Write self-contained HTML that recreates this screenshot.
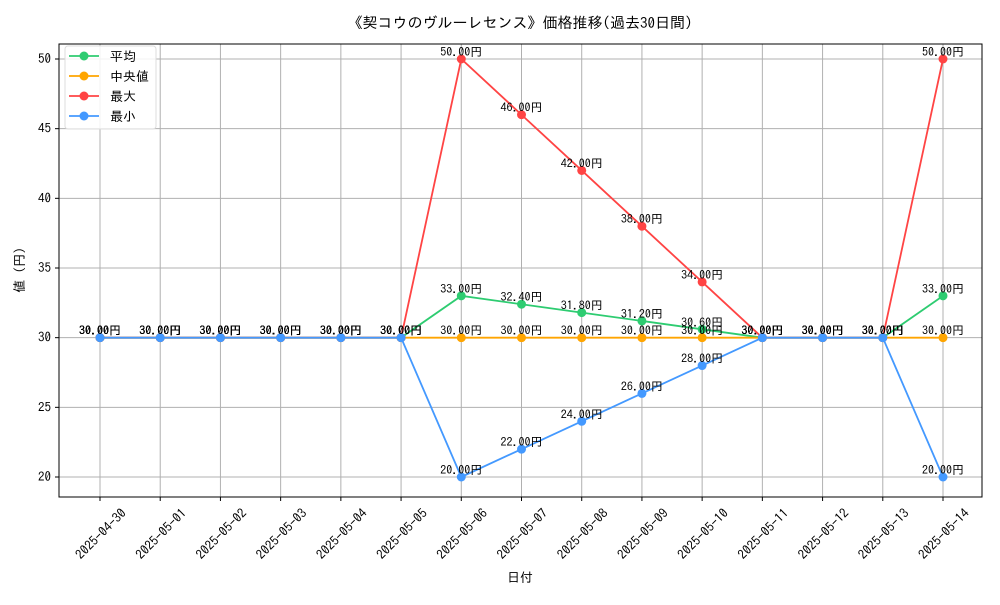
<!DOCTYPE html>
<html><head><meta charset="utf-8"><style>
body{margin:0;background:#fff}
svg text{font-family:"IPAGothic","Noto Sans CJK JP",sans-serif;fill:#000}
</style></head><body>
<svg id="c" width="1000" height="600"></svg>
<script>
const dates=["2025-04-30","2025-05-01","2025-05-02","2025-05-03","2025-05-04","2025-05-05","2025-05-06","2025-05-07","2025-05-08","2025-05-09","2025-05-10","2025-05-11","2025-05-12","2025-05-13","2025-05-14"];
const avgVals=[30,30,30,30,30,30,33,32.4,31.8,31.2,30.6,30,30,30,33];
const medianVals=[30,30,30,30,30,30,30,30,30,30,30,30,30,30,30];
const maxVals=[30,30,30,30,30,30,50,46,42,38,34,30,30,30,50];
const minVals=[30,30,30,30,30,30,20,22,24,26,28,30,30,30,20];
const yTicks=[20,25,30,35,40,45,50];
const NS="http://www.w3.org/2000/svg";
const svg=document.getElementById('c');
const L=59,R=982,T=44,B=497;
const x=i=>100+i*(943-100)/(dates.length-1);
const y=v=>477-(v-20)*(477-59)/30;
function el(t,a,p){const e=document.createElementNS(NS,t);for(const k in a)e.setAttribute(k,a[k]);(p||svg).appendChild(e);return e;}
dates.forEach((d,i)=>{
 const g=el('line',{x1:x(i),x2:x(i),y1:T,y2:B,stroke:'#b0b0b0','stroke-width':1});
 
 
 el('line',{x1:x(i),x2:x(i),y1:B,y2:B+4,stroke:'#000'});
 const t=el('text',{x:0,y:0,'font-size':13,'text-anchor':'middle',transform:`translate(${x(i)+4},${B+40}) rotate(-45)`});
 t.textContent=d;
 
 
});
yTicks.forEach(v=>{
 const g=el('line',{x1:L,x2:R,y1:y(v),y2:y(v),stroke:'#b0b0b0','stroke-width':1});
 
 
 el('line',{x1:L-4,x2:L,y1:y(v),y2:y(v),stroke:'#000'});
 const t=el('text',{x:L-8,y:y(v)+4,'font-size':13,'text-anchor':'end'});
 t.textContent=v;
 
 
});
const series=[["avg",avgVals,"#2ecc71"],["median",medianVals,"#ffa500"],["max",maxVals,"#ff4444"],["min",minVals,"#4499ff"]];
series.forEach(([n,vals,c])=>{
 const p=el('polyline',{points:vals.map((v,i)=>x(i)+','+y(v)).join(' '),fill:'none',stroke:c,'stroke-width':1.8});
 
 
 vals.forEach((v,i)=>{
  const m=el('circle',{cx:x(i),cy:y(v),r:4.5,fill:c});
  
  
  const t=el('text',{x:x(i),y:y(v)-3,'font-size':12,'text-anchor':'middle'});
  t.textContent=v.toFixed(2)+'円';
  
  
 });
});
el('rect',{x:L,y:T,width:R-L,height:B-T,fill:'none',stroke:'#000','stroke-width':1});
</script>
<svg style="position:absolute;left:0;top:0" width="1000" height="600">
<text x="520" y="28" font-size="15" text-anchor="middle">《契コウのヴルーレセンス》価格推移(過去30日間)</text>
<text x="520" y="582" font-size="13" text-anchor="middle">日付</text>
<text transform="translate(24,270) rotate(-90)" font-size="13" text-anchor="middle">値 (円)</text>
<g>
<rect x="65" y="46" width="91" height="83" rx="3" fill="#fff" fill-opacity="0.85" stroke="#ddd"/>
<g><line x1="69" x2="99" y1="56" y2="56" stroke="#2ecc71" stroke-width="1.8"/><circle cx="84" cy="56" r="4.5" fill="#2ecc71"/><text x="110" y="61" font-size="13">平均</text></g>
<g><line x1="69" x2="99" y1="76" y2="76" stroke="#ffa500" stroke-width="1.8"/><circle cx="84" cy="76" r="4.5" fill="#ffa500"/><text x="110" y="81" font-size="13">中央値</text></g>
<g><line x1="69" x2="99" y1="96" y2="96" stroke="#ff4444" stroke-width="1.8"/><circle cx="84" cy="96" r="4.5" fill="#ff4444"/><text x="110" y="101" font-size="13">最大</text></g>
<g><line x1="69" x2="99" y1="116" y2="116" stroke="#4499ff" stroke-width="1.8"/><circle cx="84" cy="116" r="4.5" fill="#4499ff"/><text x="110" y="121" font-size="13">最小</text></g>
</g>
</svg>
</body></html>
